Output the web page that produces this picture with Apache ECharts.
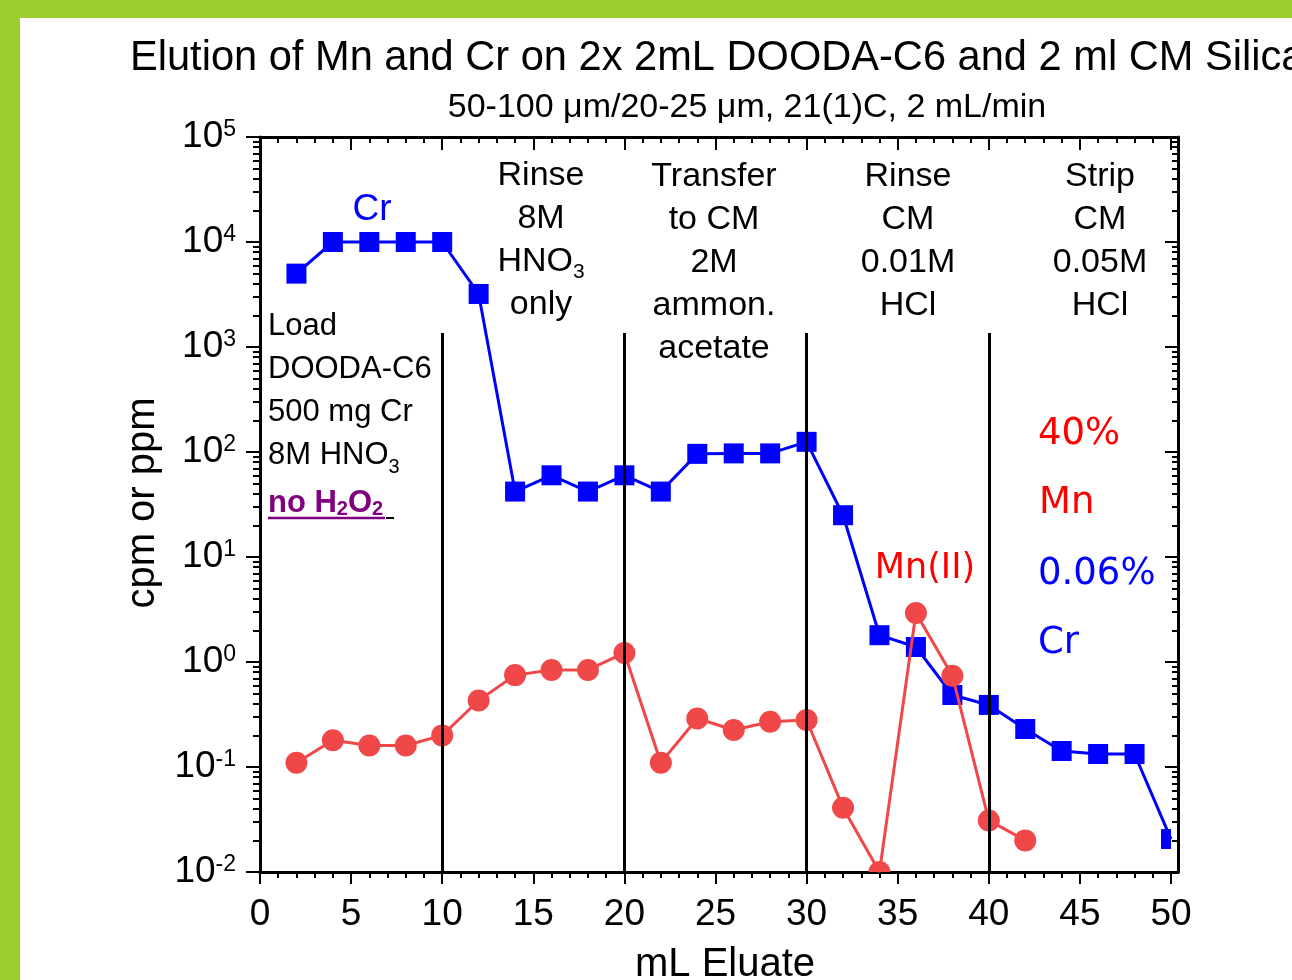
<!DOCTYPE html>
<html>
<head>
<meta charset="utf-8">
<script src="https://cdn.jsdelivr.net/npm/echarts@6/dist/echarts.min.js"></script>
<style>
  html, body { margin: 0; padding: 0; background: #fff; }
  #chart { width: 1292px; height: 980px; }
</style>
</head>
<body>
<div id="chart"></div>
<script>
// Fraction volumes (mL eluate) and measured levels
const crVolume = [2, 4, 6, 8, 10, 12, 14, 16, 18, 20, 22, 24, 26, 28, 30, 32, 34, 36, 38, 40, 42, 44, 46, 48, 50];
const crLevel = [5000, 10000, 10000, 10000, 10000, 3200, 42, 60, 42, 60, 42, 96, 97, 97, 125, 25, 1.8, 1.39, 0.485, 0.39, 0.23, 0.142, 0.133, 0.133, 0.0206];
const mnVolume = [2, 4, 6, 8, 10, 12, 14, 16, 18, 20, 22, 24, 26, 28, 30, 32, 34, 36, 38, 40, 42];
const mnLevel = [0.11, 0.18, 0.16, 0.16, 0.2, 0.43, 0.75, 0.84, 0.84, 1.22, 0.11, 0.29, 0.225, 0.27, 0.28, 0.041, 0.01, 2.93, 0.74, 0.031, 0.02];

// Stage changes (mL) and the height the separators reach
const stageBoundaries = [10, 20, 30, 40];
const boundaryTop = 1360;

// Axis ranges
const xRange = [0, 50];
const yRange = [0.01, 100000];
const yExponentRange = [-2, 5];

const FONT = '"Liberation Sans", Arial, Helvetica, sans-serif';
const FONT2 = '"DejaVu Sans", Verdana, sans-serif';
const GREEN = '#9BCF2E';
const BLUE = '#0000FF';
const MN_RED = '#F04848';
const tickStyle = { color: '#000', width: 2 };
const frameStyle = { color: '#000', width: 3 };

// Minor log ticks at 2..9 times each decade, in exponent units
const minorLogTicks = [];
for (let e = yExponentRange[0]; e < yExponentRange[1]; e++) {
  for (let k = 2; k <= 9; k++) minorLogTicks.push(e + Math.log10(k));
}

const chart = echarts.init(document.getElementById('chart'), null, { renderer: 'canvas' });

function frameAxis(gridIndex, position) {
  return {
    gridIndex, type: 'value', position, min: 0, max: 1,
    axisLine: { show: true, onZero: false, lineStyle: frameStyle },
    axisTick: { show: false }, axisLabel: { show: false }, splitLine: { show: false }
  };
}

function text(x, y, str, extra) {
  return {
    type: 'text', x, y, silent: true,
    style: Object.assign({
      text: str, fontSize: 34, fontFamily: FONT, fill: '#000',
      align: 'center', textAlign: 'center', verticalAlign: 'top', textVerticalAlign: 'top',
      lineHeight: 43
    }, extra || {})
  };
}

const subRich = (size) => ({ sub: { fontSize: size, lineHeight: Math.round(size * 1.05), verticalAlign: 'bottom', fontFamily: FONT } });

// Connecting line for one measured series
function traceSeries(name, xs, ys, color, z) {
  return {
    name, type: 'line', xAxisIndex: 0, yAxisIndex: 0, clip: true, z, silent: true,
    data: xs.map((v, i) => [v, ys[i]]),
    symbol: 'none', showSymbol: false,
    lineStyle: { color, width: 3 },
    emphasis: { disabled: true }
  };
}

// Markers for one measured series, clipped to the plot frame
function markerSeries(name, xs, ys, shape, size, color, z) {
  return {
    name, type: 'custom', xAxisIndex: 0, yAxisIndex: 0, clip: true, z, silent: true,
    data: xs.map((v, i) => [v, ys[i]]),
    encode: { x: 0, y: 1 },
    renderItem: (params, api) => {
      const p = api.coord([api.value(0), api.value(1)]);
      if (shape === 'rect') {
        return { type: 'rect', shape: { x: p[0] - size / 2, y: p[1] - size / 2, width: size, height: size }, style: { fill: color } };
      }
      return { type: 'circle', shape: { cx: p[0], cy: p[1], r: size / 2 }, style: { fill: color } };
    }
  };
}

const labelMid = { verticalAlign: 'middle', textVerticalAlign: 'middle' };
const labelLeftMid = { align: 'left', textAlign: 'left', verticalAlign: 'middle', textVerticalAlign: 'middle' };

const option = {
  animation: false,
  backgroundColor: '#fff',
  textStyle: { fontFamily: FONT },
  grid: [
    { left: 260, top: 137, width: 911, height: 735 },
    { left: 260, top: 137, width: 918, height: 735 }
  ],
  xAxis: [
    {
      gridIndex: 0, type: 'value', position: 'bottom', min: xRange[0], max: xRange[1], interval: 5,
      axisLine: { show: false, onZero: false }, splitLine: { show: false },
      axisTick: { show: true, length: 12, lineStyle: tickStyle },
      minorTick: { show: true, splitNumber: 5, length: 6, lineStyle: tickStyle },
      axisLabel: { show: true, margin: 24, fontSize: 37, fontFamily: FONT, color: '#000' }
    },
    {
      gridIndex: 0, type: 'value', position: 'top', min: xRange[0], max: xRange[1], interval: 5,
      axisLine: { show: false, onZero: false }, splitLine: { show: false },
      axisTick: { show: true, inside: true, length: 13, lineStyle: tickStyle },
      minorTick: { show: true, splitNumber: 5, length: 6, lineStyle: tickStyle },
      axisLabel: { show: false }
    },
    frameAxis(1, 'bottom'),
    frameAxis(1, 'top')
  ],
  yAxis: [
    { gridIndex: 0, type: 'log', logBase: 10, min: yRange[0], max: yRange[1], show: false, axisLine: { onZero: false } },
    {
      gridIndex: 0, type: 'value', position: 'left', min: yExponentRange[0], max: yExponentRange[1], interval: 1,
      axisLine: { show: true, onZero: false, lineStyle: frameStyle }, splitLine: { show: false },
      axisTick: { show: true, length: 14, lineStyle: tickStyle },
      axisLabel: {
        show: true, margin: 24,
        formatter: (v) => '{b|10}{s|' + v + '}',
        rich: {
          b: { fontSize: 37, lineHeight: 37, fontFamily: FONT, color: '#000' },
          s: { fontSize: 23, lineHeight: 23, fontFamily: FONT, color: '#000', verticalAlign: 'top' }
        }
      }
    },
    {
      gridIndex: 0, type: 'value', position: 'left', min: yExponentRange[0], max: yExponentRange[1],
      axisLine: { show: false, onZero: false }, splitLine: { show: false }, axisLabel: { show: false },
      axisTick: { show: true, length: 7, lineStyle: tickStyle, customValues: minorLogTicks }
    },
    {
      gridIndex: 1, type: 'value', position: 'right', min: yExponentRange[0], max: yExponentRange[1], interval: 1,
      axisLine: { show: true, onZero: false, lineStyle: frameStyle }, splitLine: { show: false }, axisLabel: { show: false },
      axisTick: { show: true, inside: true, length: 13, lineStyle: tickStyle }
    },
    {
      gridIndex: 1, type: 'value', position: 'right', min: yExponentRange[0], max: yExponentRange[1],
      axisLine: { show: false, onZero: false }, splitLine: { show: false }, axisLabel: { show: false },
      axisTick: { show: true, inside: true, length: 6, lineStyle: tickStyle, customValues: minorLogTicks }
    }
  ],
  series: [
    traceSeries('Cr', crVolume, crLevel, BLUE, 3),
    markerSeries('Cr markers', crVolume, crLevel, 'rect', 20, BLUE, 3),
    traceSeries('Mn', mnVolume, mnLevel, MN_RED, 4),
    markerSeries('Mn markers', mnVolume, mnLevel, 'circle', 22, MN_RED, 4),
    {
      name: 'stages', type: 'line', xAxisIndex: 0, yAxisIndex: 0, data: [], z: 5, silent: true,
      markLine: {
        silent: true, symbol: ['none', 'none'], label: { show: false },
        lineStyle: { color: '#000', width: 3, type: 'solid' },
        emphasis: { disabled: true },
        data: stageBoundaries.map((x) => [{ coord: [x, boundaryTop] }, { coord: [x, yRange[0]] }])
      }
    }
  ],
  graphic: [
    // green frame bands
    { type: 'rect', shape: { x: 0, y: 0, width: 1292, height: 18 }, style: { fill: GREEN }, silent: true },
    { type: 'rect', shape: { x: 0, y: 0, width: 20, height: 980 }, style: { fill: GREEN }, silent: true },

    // titles
    text(130, 59, 'Elution of Mn and Cr on 2x 2mL DOODA-C6 and 2 ml CM Silica',
      Object.assign({ fontSize: 41.6 }, labelLeftMid)),
    text(747, 108, '50-100 \u03bcm/20-25 \u03bcm, 21(1)C, 2 mL/min',
      Object.assign({ fontSize: 34 }, labelMid)),

    // axis names
    text(725, 965, 'mL Eluate', Object.assign({ fontSize: 40 }, labelMid)),
    Object.assign(text(143, 503, 'cpm or ppm', Object.assign({ fontSize: 40 }, labelMid)),
      { rotation: Math.PI / 2 }),

    // stage annotations
    text(541, 154, 'Rinse\n8M\nHNO{sub|3}\nonly', { rich: subRich(21) }),
    text(714, 155, 'Transfer\nto CM\n2M\nammon.\nacetate'),
    text(908, 155, 'Rinse\nCM\n0.01M\nHCl'),
    text(1100, 155, 'Strip\nCM\n0.05M\nHCl'),
    text(268, 305, 'Load\nDOODA-C6\n500 mg Cr\n8M HNO{sub|3}',
      { fontSize: 31, align: 'left', textAlign: 'left', rich: subRich(20) }),
    text(268, 503, '{n|no H}{s|2}{n|O}{s|2}', Object.assign({
      fill: '#800080', lineHeight: 32,
      rich: {
        n: { fontSize: 31, lineHeight: 32, fontWeight: 'bold', fontFamily: FONT, fill: '#800080' },
        s: { fontSize: 20, lineHeight: 16, fontWeight: 'bold', fontFamily: FONT, fill: '#800080', verticalAlign: 'bottom' }
      }
    }, labelLeftMid)),
    { type: 'line', shape: { x1: 268, y1: 518, x2: 385, y2: 518 }, style: { stroke: '#800080', lineWidth: 2.5 }, silent: true },
    { type: 'line', shape: { x1: 386, y1: 518, x2: 394, y2: 518 }, style: { stroke: '#000', lineWidth: 2 }, silent: true },

    // series labels
    text(372, 210, 'Cr', Object.assign({ fontSize: 37, fill: BLUE }, labelMid)),
    text(925, 569, 'Mn(II)', Object.assign({ fontSize: 35, fontFamily: FONT2, fill: '#FF0000' }, labelMid)),
    text(1038, 434, '40%', Object.assign({ fontSize: 37, fontFamily: FONT2, fill: '#FF0000' }, labelLeftMid)),
    text(1039, 503, 'Mn', Object.assign({ fontSize: 37, fontFamily: FONT2, fill: '#FF0000' }, labelLeftMid)),
    text(1038, 574, '0.06%', Object.assign({ fontSize: 37, fontFamily: FONT2, fill: BLUE }, labelLeftMid)),
    text(1038, 643, 'Cr', Object.assign({ fontSize: 37, fontFamily: FONT2, fill: BLUE }, labelLeftMid))
  ]
};

chart.setOption(option);
</script>
</body>
</html>
